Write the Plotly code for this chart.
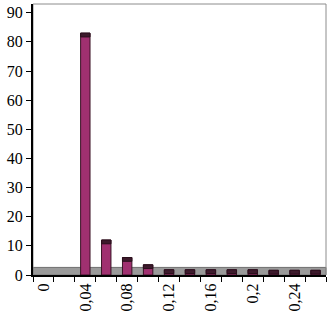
import plotly.graph_objects as go

categories = ["0", "0,02", "0,04", "0,06", "0,08", "0,1", "0,12", "0,14",
              "0,16", "0,18", "0,2", "0,22", "0,24", "0,26"]
values = [0, 0, 83, 12, 6, 3.5, 1.8, 1.8, 1.8, 1.8, 1.8, 1.6, 1.6, 1.6]
tick_labels = ["0", "", "0,04", "", "0,08", "", "0,12", "", "0,16", "",
               "0,2", "", "0,24", ""]
y_ticks = [0, 10, 20, 30, 40, 50, 60, 70, 80, 90]

CAP = 1.3
xs = [c for c, v in zip(categories, values) if v > 0]
vs = [v for v in values if v > 0]

fig = go.Figure()
fig.add_trace(go.Bar(
    x=xs, y=vs, width=0.45,
    marker=dict(color="#a03070", line=dict(color="#3a1426", width=1)),
    hoverinfo="skip"))
fig.add_trace(go.Bar(
    x=xs, y=[CAP] * len(vs), base=[v - CAP for v in vs], width=0.45,
    marker=dict(color="#3d1a2c", line=dict(color="#2a0f1c", width=1)),
    hoverinfo="skip"))

fig.update_layout(
    width=330, height=317,
    margin=dict(l=33, r=4, t=4, b=42),
    paper_bgcolor="white", plot_bgcolor="white",
    barmode="overlay", showlegend=False,
    font=dict(family="Liberation Serif", size=16, color="black"),
    shapes=[
        dict(type="rect", xref="paper", yref="y", x0=0, x1=1, y0=0, y1=2.6,
             fillcolor="#9a9a9a", line=dict(color="#6e6e6e", width=1),
             layer="below"),
        dict(type="rect", xref="paper", yref="paper", x0=0, x1=1, y0=0, y1=1,
             line=dict(color="#8c8c8c", width=1), layer="below"),
    ],
)
fig.update_xaxes(
    type="category", categoryorder="array", categoryarray=categories,
    range=[-0.5, len(categories) - 0.5],
    tickmode="array", tickvals=categories, ticktext=tick_labels,
    tickson="boundaries", ticks="outside", ticklen=5, tickcolor="black",
    tickangle=-90, showline=True, linecolor="black", linewidth=2,
    showgrid=False, zeroline=False, fixedrange=True)
fig.update_yaxes(
    range=[0, 93], tickmode="array", tickvals=y_ticks,
    ticks="outside", ticklen=5, tickcolor="black",
    showline=True, linecolor="black", linewidth=2,
    showgrid=False, zeroline=False, fixedrange=True)

fig.write_html("out.html",
               config={"displayModeBar": False},
               post_script="document.body.style.margin='0';document.body.style.overflow='hidden';")
